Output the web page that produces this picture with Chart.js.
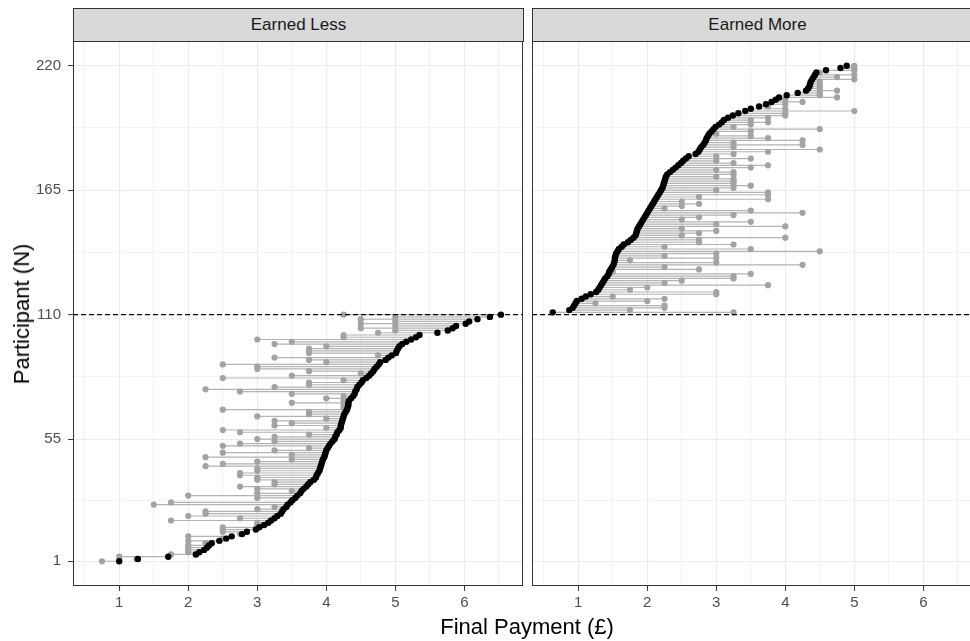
<!DOCTYPE html>
<html>
<head>
<meta charset="utf-8">
<script src="https://cdn.jsdelivr.net/npm/chart.js@4.4.1/dist/chart.umd.min.js"></script>
<style>
  html, body { margin: 0; padding: 0; background: #fff; }
  body { width: 970px; height: 641px; overflow: hidden; position: relative; font-family: "Liberation Sans", Arial, sans-serif; }
  .strip { position: absolute; top: 8px; height: 34px; width: 451px; box-sizing: border-box; background: #d9d9d9; border: 1px solid #333; text-align: center; line-height: 32px; font-size: 17px; color: #1a1a1a; }
  canvas { position: absolute; }
  #ytitle { position: absolute; left: 22px; top: 314px; transform: translate(-50%, -50%) rotate(-90deg); font-size: 22px; white-space: nowrap; }
  #xtitle { position: absolute; left: 527px; top: 627px; transform: translate(-50%, -50%); font-size: 22px; white-space: nowrap; }
</style>
</head>
<body>
<div class="strip" id="stripLess" style="left:73px"></div>
<div class="strip" id="stripMore" style="left:532px"></div>
<canvas id="less" width="525" height="576" style="left:0;top:40px"></canvas>
<canvas id="more" width="453" height="576" style="left:531px;top:40px"></canvas>
<div id="ytitle">Participant (N)</div>
<div id="xtitle">Final Payment (£)</div>
<script>
// panels and axes
const panelTitles = ['Earned Less', 'Earned More'];
const xTicks = [1, 2, 3, 4, 5, 6];
const yTicks = [1, 55, 110, 165, 220];
const cutLine = 110;

// participants 1-110, sorted by final payment
const lessFinal = [
  1.00, 1.27, 1.71, 2.11, 2.16, 2.23, 2.27, 2.30, 2.34, 2.45,
  2.55, 2.63, 2.78, 2.85, 2.98, 3.03, 3.10, 3.16, 3.20, 3.25,
  3.29, 3.34, 3.36, 3.38, 3.42, 3.44, 3.48, 3.51, 3.55, 3.58,
  3.62, 3.64, 3.67, 3.71, 3.74, 3.77, 3.82, 3.85, 3.86, 3.88,
  3.90, 3.91, 3.92, 3.93, 3.94, 3.95, 3.97, 3.98, 3.99, 4.00,
  4.02, 4.04, 4.06, 4.09, 4.12, 4.13, 4.15, 4.16, 4.19, 4.21,
  4.21, 4.22, 4.23, 4.24, 4.25, 4.26, 4.28, 4.30, 4.31, 4.32,
  4.32, 4.33, 4.36, 4.39, 4.41, 4.42, 4.44, 4.45, 4.48, 4.51,
  4.53, 4.58, 4.62, 4.65, 4.68, 4.70, 4.73, 4.76, 4.78, 4.86,
  4.90, 4.95, 5.01, 5.02, 5.04, 5.06, 5.10, 5.16, 5.23, 5.30,
  5.35, 5.61, 5.76, 5.83, 5.88, 6.02, 6.07, 6.19, 6.37, 6.53
];
const lessOther = [
  0.75, 1.25, 1.00, 1.75, 2.00, 2.00, 2.00, 2.00, 2.25, 2.00,
  2.50, 2.00, 2.75, 2.50, 2.50, 2.50, 3.00, 3.00, 1.75, 2.75,
  2.00, 2.25, 2.25, 3.00, 3.25, 1.50, 1.75, 3.50, 3.00, 2.00,
  3.00, 3.50, 3.00, 2.75, 3.25, 3.25, 3.00, 3.00, 2.75, 2.75,
  3.00, 3.00, 2.25, 2.50, 3.00, 3.50, 2.25, 3.50, 2.50, 3.25,
  3.75, 2.50, 2.75, 3.25, 3.00, 3.25, 3.75, 2.75, 2.50, 4.00,
  3.25, 3.50, 3.25, 4.00, 3.00, 3.75, 3.75, 2.50, 4.25, 4.25,
  3.50, 4.25, 4.00, 4.25, 3.50, 2.75, 2.25, 3.25, 3.75, 3.75,
  4.25, 2.50, 3.50, 4.50, 3.75, 3.00, 3.00, 2.50, 4.00, 3.75,
  3.25, 4.75, 3.75, 3.75, 3.75, 4.00, 3.25, 3.50, 3.00, 4.25,
  4.25, 4.75, 5.00, 4.50, 5.00, 4.50, 5.00, 4.50, 5.00, 4.25
];

// participants 111-220
const moreFinal = [
  0.63, 0.87, 0.92, 0.94, 0.96, 0.98, 1.05, 1.11, 1.18, 1.26,
  1.29, 1.31, 1.33, 1.35, 1.37, 1.39, 1.42, 1.44, 1.45, 1.47,
  1.49, 1.51, 1.52, 1.53, 1.53, 1.54, 1.55, 1.57, 1.59, 1.63,
  1.66, 1.72, 1.76, 1.80, 1.83, 1.84, 1.85, 1.86, 1.88, 1.90,
  1.92, 1.94, 1.96, 1.98, 2.00, 2.02, 2.04, 2.06, 2.08, 2.10,
  2.12, 2.14, 2.16, 2.18, 2.20, 2.22, 2.23, 2.24, 2.25, 2.26,
  2.27, 2.29, 2.33, 2.37, 2.41, 2.45, 2.49, 2.52, 2.56, 2.60,
  2.70, 2.74, 2.76, 2.78, 2.81, 2.83, 2.85, 2.86, 2.88, 2.90,
  2.93, 2.96, 2.99, 3.04, 3.08, 3.11, 3.17, 3.24, 3.32, 3.42,
  3.50, 3.62, 3.72, 3.80, 3.86, 3.91, 4.02, 4.18, 4.30, 4.33,
  4.35, 4.36, 4.37, 4.39, 4.41, 4.43, 4.45, 4.59, 4.80, 4.89
];
const moreOther = [
  3.25, 1.75, 2.25, 2.25, 1.25, 2.00, 2.25, 1.50, 3.00, 3.00,
  1.75, 2.00, 3.75, 2.25, 2.50, 3.25, 3.25, 3.50, 1.50, 2.75,
  2.25, 4.25, 3.00, 1.75, 3.00, 2.25, 3.00, 4.50, 3.50, 2.25,
  3.25, 2.75, 2.75, 4.00, 2.50, 2.75, 3.00, 2.50, 4.00, 3.00,
  3.50, 2.50, 2.75, 3.25, 4.25, 3.50, 2.25, 2.50, 2.75, 2.50,
  3.75, 2.75, 3.75, 3.75, 3.00, 3.25, 3.50, 3.25, 3.25, 3.25,
  3.00, 3.25, 3.25, 3.00, 3.50, 3.75, 3.25, 3.00, 3.50, 3.00,
  3.25, 3.75, 4.50, 3.25, 4.25, 3.25, 4.25, 3.75, 3.50, 3.00,
  3.50, 4.50, 3.25, 3.50, 3.75, 3.50, 3.75, 4.00, 4.00, 5.00,
  4.00, 3.75, 4.00, 4.25, 4.00, 4.75, 4.50, 4.50, 4.75, 4.50,
  4.50, 4.50, 4.50, 5.00, 4.75, 5.00, 4.50, 5.00, 5.00, 5.00
];

const X_MIN = 0.33, X_MAX = 6.85;
const Y_MIN = -9.95, Y_MAX = 230.95;

// minor grid sits halfway between major breaks
function withMinor(major, lo, hi) {
  const out = [];
  const step = major[1] - major[0];
  const v = major[0] - step / 2;
  if (v >= lo) out.push(v);
  major.forEach((m, i) => {
    out.push(m);
    const next = i < major.length - 1 ? (m + major[i + 1]) / 2 : m + step / 2;
    if (next <= hi) out.push(next);
  });
  return out;
}
const xGrid = withMinor(xTicks, X_MIN, X_MAX);
const yGrid = withMinor(yTicks, Y_MIN, Y_MAX);

const tickFont = { family: 'Liberation Sans', size: 15 };

const panelBox = {
  id: 'panelBox',
  afterDatasetsDraw(chart) {
    const { ctx, chartArea: a } = chart;
    ctx.save();
    ctx.strokeStyle = '#333333';
    ctx.lineWidth = 1;
    ctx.strokeRect(a.left + 0.5, a.top + 0.5, a.width - 1, a.height - 1);
    ctx.restore();
  }
};

function buildChart(id, first, other, final, showY, pad) {
  const segs = [], greyPts = [], blackPts = [];
  final.forEach((f, i) => {
    const p = first + i;
    segs.push({ x: other[i], y: p }, { x: f, y: p }, { x: null, y: null });
    greyPts.push({ x: other[i], y: p });
    blackPts.push({ x: f, y: p });
  });

  return new Chart(document.getElementById(id), {
    type: 'scatter',
    data: {
      datasets: [
        {
          type: 'line',
          data: [{ x: X_MIN, y: cutLine }, { x: X_MAX, y: cutLine }],
          borderColor: '#000',
          borderWidth: 1.1,
          borderDash: [5, 3],
          pointRadius: 0
        },
        {
          data: blackPts,
          backgroundColor: '#000',
          borderColor: '#000',
          borderWidth: 0,
          pointRadius: 3.2
        },
        {
          data: greyPts,
          backgroundColor: '#a3a3a3',
          borderColor: '#a3a3a3',
          borderWidth: 0,
          pointRadius: 3.1
        },
        {
          type: 'line',
          data: segs,
          borderColor: '#b3b3b3',
          borderWidth: 1.2,
          pointRadius: 0,
          spanGaps: false
        }
      ]
    },
    options: {
      responsive: false,
      animation: false,
      events: [],
      layout: { padding: pad, autoPadding: false },
      plugins: { legend: { display: false }, tooltip: { enabled: false } },
      scales: {
        x: {
          type: 'linear',
          min: X_MIN,
          max: X_MAX,
          afterBuildTicks: s => { s.ticks = xGrid.map(v => ({ value: v })); },
          afterFit: s => { s.height = 30; s.paddingLeft = 0; s.paddingRight = 0; },
          border: { display: false },
          grid: {
            color: '#ebebeb',
            lineWidth: c => xTicks.includes(c.tick.value) ? 1.1 : 0.6,
            tickColor: c => xTicks.includes(c.tick.value) ? '#333333' : 'rgba(0,0,0,0)',
            tickWidth: 1,
            tickLength: 5
          },
          ticks: {
            autoSkip: false,
            maxRotation: 0,
            padding: 3,
            color: '#4d4d4d',
            font: tickFont,
            callback: v => xTicks.includes(v) ? v : ''
          }
        },
        y: {
          type: 'linear',
          min: Y_MIN,
          max: Y_MAX,
          afterBuildTicks: s => { s.ticks = yGrid.map(v => ({ value: v })); },
          afterFit: s => { s.width = showY ? 73 : 0; s.paddingTop = 0; s.paddingBottom = 0; },
          border: { display: false },
          grid: {
            color: '#ebebeb',
            lineWidth: c => yTicks.includes(c.tick.value) ? 1.1 : 0.6,
            tickColor: c => yTicks.includes(c.tick.value) ? '#333333' : 'rgba(0,0,0,0)',
            tickWidth: 1,
            tickLength: 5,
            drawTicks: showY
          },
          ticks: {
            display: showY,
            autoSkip: false,
            padding: 7,
            color: '#4d4d4d',
            font: tickFont,
            callback: v => yTicks.includes(v) ? v : ''
          }
        }
      }
    },
    plugins: [panelBox]
  });
}

document.getElementById('stripLess').textContent = panelTitles[0];
document.getElementById('stripMore').textContent = panelTitles[1];

buildChart('less', 1, lessOther, lessFinal, true, { top: 1, right: 2, left: 0, bottom: 0 });
buildChart('more', lessFinal.length + 1, moreOther, moreFinal, false, { top: 1, right: 2, left: 1, bottom: 0 });
</script>
</body>
</html>
